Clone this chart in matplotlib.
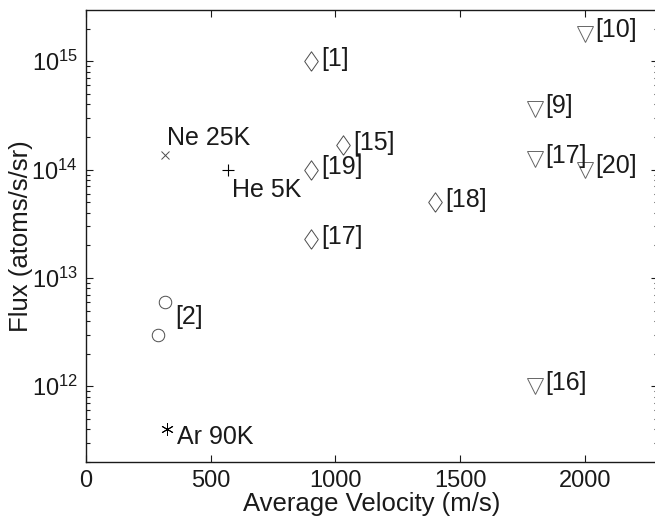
import matplotlib
matplotlib.use("Agg")
import matplotlib.pyplot as plt
from matplotlib.ticker import LogLocator, NullFormatter, FixedLocator

plt.rcParams['font.family'] = ['Liberation Sans', 'DejaVu Sans']
plt.rcParams['mathtext.fontset'] = 'custom'
plt.rcParams['mathtext.rm'] = 'Liberation Sans'
plt.rcParams['mathtext.it'] = 'Liberation Sans'

# ---- data ----
diamond_x = [900, 900, 900, 1030, 1400]
diamond_y = [1e15, 1e14, 2.3e13, 1.7e14, 5e13]
diamond_labels = ['[1]', '[19]', '[17]', '[15]', '[18]']

triangle_x = [2000, 1800, 1800, 2000, 1800]
triangle_y = [1.8e15, 3.6e14, 1.25e14, 1e14, 1e12]
triangle_labels = ['[10]', '[9]', '[17]', '[20]', '[16]']

circle_x = [315, 290]
circle_y = [6e12, 3e12]
circle_label = '[2]'

ne_x, ne_y, ne_label = [315], [1.35e14], 'Ne 25K'
he_x, he_y, he_label = [570], [1e14], 'He 5K'
ar_x, ar_y, ar_label = [325], [4e11], 'Ar 90K'

x_ticks = [0, 500, 1000, 1500, 2000]
y_ticks = [1e12, 1e13, 1e14, 1e15]
y_tick_labels = ['$10^{12}$', '$10^{13}$', '$10^{14}$', '$10^{15}$']

FS = 17
FS_TXT = 18
fig = plt.figure(figsize=(6.55, 5.18), dpi=100)
ax = fig.add_axes([86 / 655, 56 / 518, (658 - 86) / 655, 452 / 518])
ax.set_yscale('log')
ax.set_xlim(0, 2293)
ax.set_ylim(2.0e11, 2.97e15)

diamond_marker = [(0, -1), (0.7, 0), (0, 1), (-0.7, 0), (0, -1)]
mcol = '0.3'
ax.plot(diamond_x, diamond_y, linestyle='none', marker=diamond_marker, ms=14,
        mfc='none', mec=mcol, mew=0.7)
ax.plot(triangle_x, triangle_y, linestyle='none', marker='v', ms=11,
        mfc='none', mec='0.4', mew=0.7)
ax.plot(circle_x, circle_y, linestyle='none', marker='o', ms=9,
        mfc='none', mec=mcol, mew=0.7)
ax.plot(ne_x, ne_y, linestyle='none', marker='x', ms=6, mec=mcol, mew=0.7)
ax.plot(he_x, he_y, linestyle='none', marker='+', ms=9, mec='k', mew=0.8)
ax.plot(ar_x, ar_y, linestyle='none', marker=(6, 2, 0), ms=9, mec='k', mew=0.7)

def lab(x, y, s, dx, dy, va='center'):
    ax.annotate(s, (x, y), xytext=(dx, dy), textcoords='offset points',
                ha='left', va=va, fontsize=FS_TXT, color='0.1')

for x, y, s in zip(diamond_x, diamond_y, diamond_labels):
    lab(x, y, s, 7.5, 1.5)
for x, y, s in zip(triangle_x, triangle_y, triangle_labels):
    lab(x, y, s, 7.5, 2.5)
lab(circle_x[0], circle_y[0], circle_label, 8, -11)
lab(ne_x[0], ne_y[0], ne_label, 2, 7.5, va='baseline')
lab(he_x[0], he_y[0], he_label, 2.5, -20, va='baseline')
lab(ar_x[0], ar_y[0], ar_label, 7.5, -5.5)

ax.xaxis.set_major_locator(FixedLocator(x_ticks))
ax.set_xticklabels([str(v) for v in x_ticks])
ax.yaxis.set_major_locator(FixedLocator(y_ticks))
ax.set_yticklabels(y_tick_labels)
ax.yaxis.set_minor_locator(LogLocator(base=10, subs=range(2, 10), numticks=20))
ax.yaxis.set_minor_formatter(NullFormatter())

ax.tick_params(which='both', direction='in', top=True, right=True,
               labelsize=FS, colors='0.1', width=0.8)
ax.tick_params(which='major', length=5, pad=6)
ax.tick_params(which='minor', length=3)
for sp in ax.spines.values():
    sp.set_linewidth(1.0)
    sp.set_color('0.1')

ax.set_xlabel('Average Velocity (m/s)', fontsize=18.5, color='0.1', labelpad=0)
ax.set_ylabel('Flux (atoms/s/sr)', fontsize=18.5, color='0.1', labelpad=-1)

fig.savefig('out.png', dpi=100)
